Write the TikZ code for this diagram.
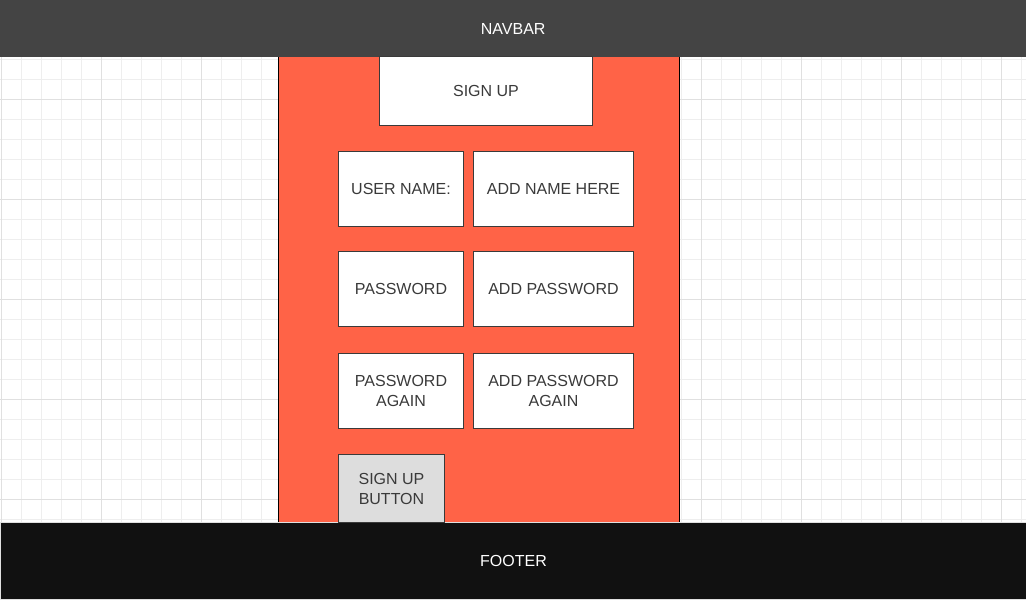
\documentclass[tikz,border=0pt]{standalone}
\usepackage{fontspec}
\setmainfont{Liberation Sans}
\definecolor{navc}{HTML}{444444}
\definecolor{footc}{HTML}{111111}
\definecolor{panelc}{HTML}{FF6347}
\definecolor{txtc}{HTML}{3A3A3A}
\definecolor{minorc}{HTML}{EEEEEE}
\definecolor{majorc}{HTML}{E0E0E0}
\definecolor{btnc}{HTML}{DDDDDD}
\begin{document}
\begin{tikzpicture}[x=1pt,y=-1pt,
  box/.style={draw=txtc,line width=1pt,fill=white,text=txtc,align=center,
    font=\fontsize{16}{20}\selectfont,inner sep=0pt,anchor=north west},
  bar/.style={inner sep=0pt,anchor=north west,text=white,font=\fontsize{16}{20}\selectfont}]
\useasboundingbox (0,0) rectangle (1026,600);
\fill[white] (0,0) rectangle (1026,600);
% grid
\foreach \x in {1,21,...,1021} {\draw[minorc,line width=1pt] (\x,56) -- (\x,522);}
\foreach \y in {59,79,...,519} {\draw[minorc,line width=1pt] (0,\y) -- (1026,\y);}
\foreach \x in {1,101,...,1001} {\draw[majorc,line width=1pt] (\x,56) -- (\x,522);}
\foreach \y in {99,199,...,499} {\draw[majorc,line width=1pt] (0,\y) -- (1026,\y);}
% panel
\node[draw=black,line width=1pt,fill=panelc,minimum width=401pt,minimum height=466pt,inner sep=0pt,anchor=north west] (panel) at (278,56) {};
% navbar
\node[bar,fill=navc,minimum width=1026pt,minimum height=57pt] (nav) at (0,0) {NAVBAR};
% footer
\node[bar,fill=footc,draw=majorc,line width=1pt,minimum width=1026pt,minimum height=77pt] (foot) at (0,522) {FOOTER};
% boxes
\node[box,minimum width=213pt,minimum height=69pt] (signup) at (379,56) {SIGN UP};
\node[box,minimum width=125pt,minimum height=75pt] (uname) at (338,151) {USER NAME:};
\node[box,minimum width=160pt,minimum height=75pt] (aname) at (473,151) {ADD NAME HERE};
\node[box,minimum width=125pt,minimum height=75pt] (pw) at (338,251) {PASSWORD};
\node[box,minimum width=160pt,minimum height=75pt] (apw) at (473,251) {ADD PASSWORD};
\node[box,minimum width=125pt,minimum height=75pt] (pw2) at (338,353) {PASSWORD\\AGAIN};
\node[box,minimum width=160pt,minimum height=75pt] (apw2) at (473,353) {ADD PASSWORD\\AGAIN};
\node[box,fill=btnc,minimum width=106pt,minimum height=68pt] (btn) at (338,454) {SIGN UP\\BUTTON};
\end{tikzpicture}
\end{document}
